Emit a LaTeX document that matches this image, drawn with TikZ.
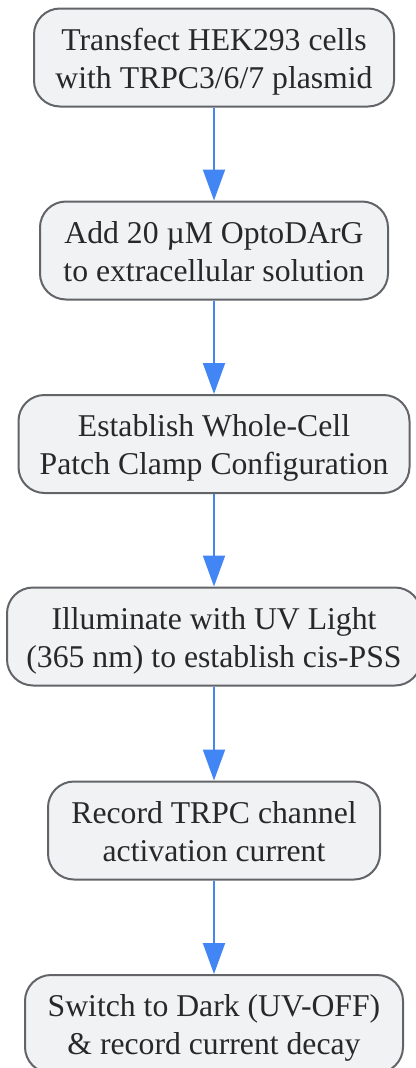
\documentclass[tikz,border=0pt]{standalone}
\usepackage{fontspec}
\setmainfont{Liberation Serif}
\usetikzlibrary{arrows.meta}
\definecolor{boxfill}{RGB}{241,242,244}
\definecolor{boxline}{RGB}{98,100,104}
\definecolor{txt}{RGB}{40,40,40}
\definecolor{arrowblue}{RGB}{66,133,244}
\tikzset{
  stepbox/.style={draw=boxline, fill=boxfill, line width=2pt, rounded corners=26pt,
    align=center, text=txt, font=\fontsize{31.7pt}{38pt}\selectfont,
    text height=64pt, text depth=3pt, inner sep=0pt, minimum height=98pt},
  flow/.style={draw=arrowblue, line width=2pt, -{Triangle[width=22pt,length=31pt]}}
}
\begin{document}
\begin{tikzpicture}[x=1pt,y=1pt]
\useasboundingbox (0,0) rectangle (415,-1068);
\node[stepbox, minimum width=360pt] (n1) at (214,-57.5) {Transfect HEK293 cells\\with TRPC3/6/7 plasmid};
\node[stepbox, minimum width=348pt] (n2) at (214,-250.5) {Add 20 µM OptoDArG\\to extracellular solution};
\node[stepbox, minimum width=391pt] (n3) at (214,-444) {Establish Whole-Cell\\Patch Clamp Configuration};
\node[stepbox, minimum width=414pt] (n4) at (214,-636.5) {Illuminate with UV Light\\(365 nm) to establish cis-PSS};
\node[stepbox, minimum width=332pt] (n5) at (214,-830.5) {Record TRPC channel\\activation current};
\node[stepbox, minimum width=378pt] (n6) at (214,-1024) {Switch to Dark (UV-OFF)\\\& record current decay};
\draw[flow] (n1) -- (n2);
\draw[flow] (n2) -- (n3);
\draw[flow] (n3) -- (n4);
\draw[flow] (n4) -- (n5);
\draw[flow] (n5) -- (n6);
\end{tikzpicture}
\end{document}
